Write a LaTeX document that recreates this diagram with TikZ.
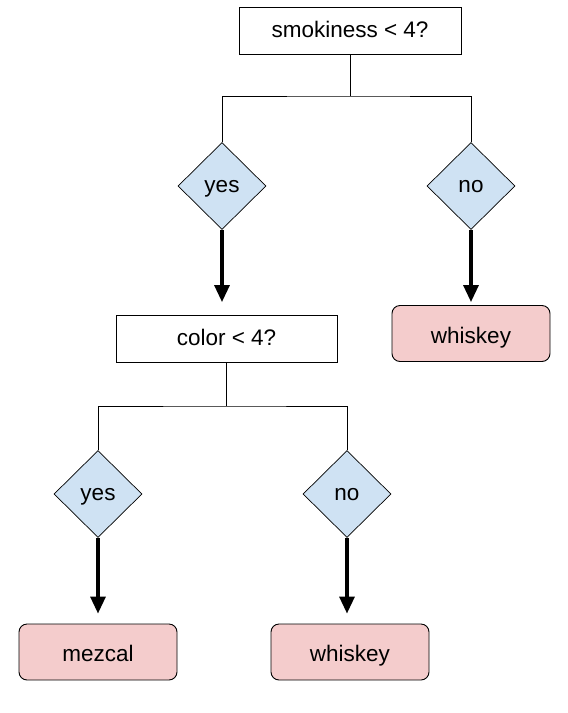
\documentclass[tikz,border=0pt]{standalone}
\usepackage{fontspec}
\setmainfont{Liberation Sans}
\usetikzlibrary{shapes.geometric,arrows.meta}
\definecolor{dblue}{HTML}{CFE2F3}
\definecolor{lpink}{HTML}{F4CCCC}
\begin{document}
\begin{tikzpicture}[x=1pt,y=-1pt,
  every node/.style={font=\fontsize{22.5}{26}\selectfont, inner sep=0pt, text height=16pt, text depth=3pt},
  qbox/.style={draw, line width=0.9pt, minimum width=222pt, minimum height=47pt},
  dia/.style={draw, line width=0.7pt, fill=dblue, diamond, minimum width=88pt, minimum height=87pt},
  leaf/.style={draw, line width=0.9pt, fill=lpink, rounded corners=8pt, minimum width=158pt, minimum height=56pt, text height=19pt, text depth=0pt},
  conn/.style={line width=0.9pt},
  arr/.style={line width=3.2pt, -{Triangle[length=17pt,width=15pt]}}]
\useasboundingbox (0,0) rectangle (568,713);
\node[qbox] (q1) at (350,31) {smokiness < 4?};
\node[dia] (y1) at (222,186) {yes};
\node[dia] (n1) at (471,186) {no};
\node[qbox, minimum width=221pt] (q2) at (226.5,339) {color < 4?};
\node[leaf] (w1) at (471,333.5) {whiskey};
\node[dia] (y2) at (98,494) {yes};
\node[dia] (n2) at (347,494) {no};
\node[leaf] (m) at (98,652) {mezcal};
\node[leaf] (w2) at (350,652) {whiskey};
\coordinate (j1) at (350,96);
\coordinate (j2) at (226.5,406);
\draw[conn] (q1.south) -- (j1);
\draw[conn] (y1.north) |- (j1) -| (n1.north);
\draw[conn] (q2.south) -- (j2);
\draw[conn] (y2.north) |- (j2) -| (n2.north);
\draw[arr, shorten >=13pt] (y1.south) -- (y1.south |- q2.north);
\draw[arr, shorten >=3pt] (n1.south) -- (w1.north);
\draw[arr, shorten >=10pt] (y2.south) -- (y2.south |- m.north);
\draw[arr, shorten >=10pt] (n2.south) -- (n2.south |- w2.north);
\end{tikzpicture}
\end{document}
